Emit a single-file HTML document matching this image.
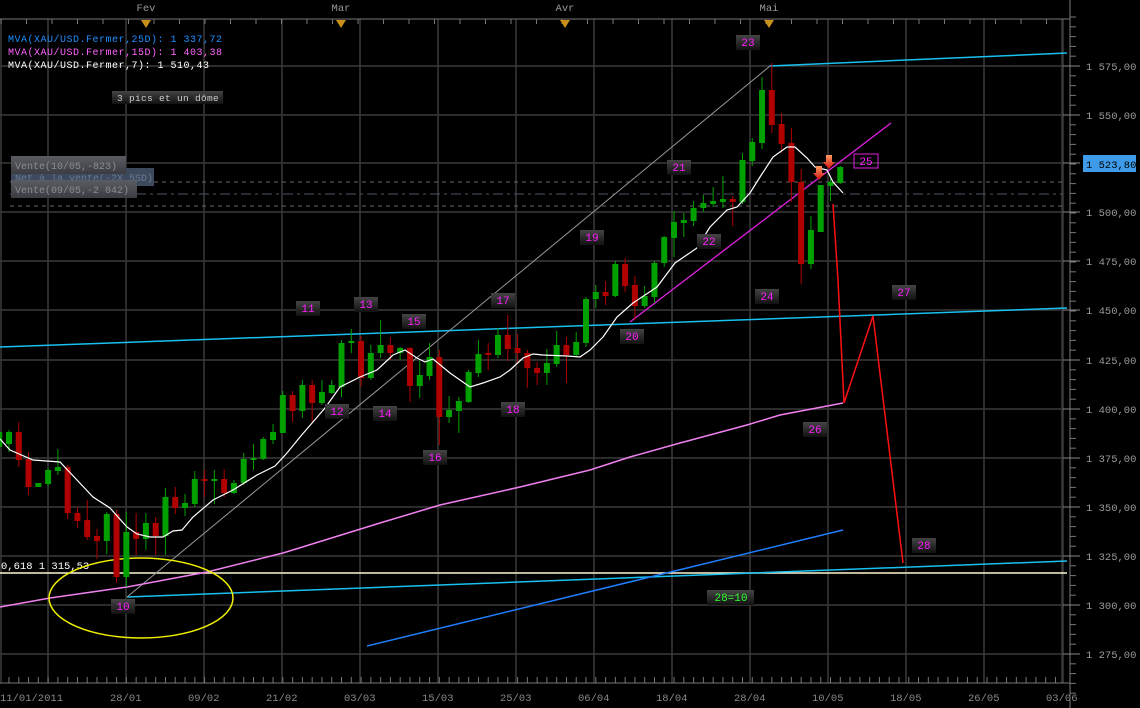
<!DOCTYPE html>
<html><head><meta charset="utf-8">
<style>
html,body{margin:0;padding:0;background:#000;}
svg{display:block;font-family:"Liberation Mono","DejaVu Sans Mono",monospace;}
</style></head>
<body>
<svg id="c" width="1140" height="708" viewBox="0 0 1140 708" xmlns="http://www.w3.org/2000/svg">
<defs>
<linearGradient id="lb" x1="0" y1="0" x2="0" y2="1"><stop offset="0" stop-color="#444"/><stop offset="1" stop-color="#111"/></linearGradient>
<linearGradient id="vb" x1="0" y1="0" x2="0" y2="1"><stop offset="0" stop-color="#5a5d63"/><stop offset="1" stop-color="#3a3c40"/></linearGradient>
<linearGradient id="ar" x1="0" y1="0" x2="0" y2="1"><stop offset="0" stop-color="#ff9a60"/><stop offset="1" stop-color="#d01010"/></linearGradient>
</defs>
<rect width="1140" height="708" fill="#000"/>
<g id="grid" stroke="#3a3a3a" stroke-width="1.5"></g>
<g id="axes"></g>
<g id="lines" fill="none"></g>
<g id="cand"></g>
<g id="over"></g>
</svg>
<script>
const NS="http://www.w3.org/2000/svg";
function el(p,t,a,txt){const e=document.createElementNS(NS,t);for(const k in a)e.setAttribute(k,a[k]);if(txt!==undefined)e.textContent=txt;document.getElementById(p).appendChild(e);return e;}
const ys=[66,115,163,212,261,310,360,409,458,507,556,605,654];
ys.forEach(y=>el("grid","line",{x1:0,y1:y,x2:1063,y2:y}));
for(let x=48;x<=1062;x+=78)el("grid","line",{x1:x,y1:19,x2:x,y2:683});
el("grid","line",{x1:1,y1:19,x2:1,y2:683});
el("grid","line",{x1:1063,y1:19,x2:1063,y2:683});
el("axes","line",{x1:0,y1:19,x2:1070,y2:19,stroke:"#777","stroke-width":1});
el("axes","line",{x1:0,y1:683,x2:1070,y2:683,stroke:"#777","stroke-width":1});
el("axes","line",{x1:1070,y1:0,x2:1070,y2:708,stroke:"#777","stroke-width":1});
for(let x=9;x<1062;x+=9.78){el("axes","line",{x1:x,y1:683,x2:x,y2:677,stroke:"#777"});}
for(let x=1;x<1062;x+=25.5){el("axes","line",{x1:x,y1:19,x2:x,y2:24,stroke:"#777"});}
for(let y=17;y<700;y+=9.8){el("axes","line",{x1:1070,y1:y,x2:1076,y2:y,stroke:"#777"});}
ys.forEach(y=>el("axes","line",{x1:1063,y1:y,x2:1080,y2:y,stroke:"#888"}));
const pl=["1 575,00","1 550,00",null,"1 500,00","1 475,00","1 450,00","1 425,00","1 400,00","1 375,00","1 350,00","1 325,00","1 300,00","1 275,00"];
pl.forEach((t,i)=>{if(t)el("axes","text",{x:1086,y:ys[i]+4,fill:"#9a9a9a","font-size":10.5},t);});
el("axes","rect",{x:1083,y:155,width:53,height:17,fill:"#3d9be9"});
el("axes","text",{x:1086,y:168,fill:"#000","font-size":10.5},"1 523,80");
const dl=[["11/01/2011",0],["28/01",110],["09/02",188],["21/02",266],["03/03",344],["15/03",422],["25/03",500],["06/04",578],["18/04",656],["28/04",734],["10/05",812],["18/05",890],["26/05",968],["03/06",1046]];
dl.forEach(d=>el("axes","text",{x:d[1],y:701,fill:"#888","font-size":10.5},d[0]));
[["Fev",146],["Mar",341],["Avr",565],["Mai",769]].forEach(m=>{
 el("axes","text",{x:m[1],y:11,fill:"#999","font-size":10.5,"text-anchor":"middle"},m[0]);
 el("axes","polygon",{points:(m[1]-5)+",20 "+(m[1]+5)+",20 "+m[1]+",28",fill:"#c8901a"});
});
el("lines","line",{x1:10,y1:182,x2:1063,y2:182,stroke:"#666","stroke-dasharray":"4,4"});
el("lines","line",{x1:10,y1:194,x2:1063,y2:194,stroke:"#4a5566","stroke-dasharray":"10,4,3,4"});
el("lines","line",{x1:10,y1:206,x2:1063,y2:206,stroke:"#666","stroke-dasharray":"4,4"});
el("lines","line",{x1:0,y1:573,x2:1067,y2:573,stroke:"#fff8d0","stroke-width":1.5});
el("lines","line",{x1:0,y1:347,x2:1067,y2:308,stroke:"#19c0f0","stroke-width":1.5});
el("lines","line",{x1:127,y1:597,x2:1067,y2:561,stroke:"#19c0f0","stroke-width":1.5});
el("lines","line",{x1:770,y1:66,x2:1067,y2:53,stroke:"#19c0f0","stroke-width":1.5});
el("lines","line",{x1:367,y1:646,x2:843,y2:530,stroke:"#1e7fff","stroke-width":1.5});
el("lines","line",{x1:127,y1:597,x2:770,y2:66,stroke:"#999","stroke-width":1});
el("lines","line",{x1:630,y1:322,x2:891,y2:123,stroke:"#e020e0","stroke-width":1.3});
el("lines","polyline",{points:"0,607 50,598 127,587 207,572 283,553 380,523 440,505 520,487 590,470 630,457 680,443 747,425 780,415 843,403",stroke:"#f080f0","stroke-width":1.5});
el("lines","ellipse",{cx:141,cy:598,rx:92,ry:40,stroke:"#f0f000","stroke-width":1.5});
el("lines","polyline",{points:"833,204 838,280 844,403 873,316 903,563",stroke:"#ff1010","stroke-width":1.5});
el("axes","text",{x:1,y:569,fill:"#fff","font-size":10.5},"0,618 1 315,53");
const C=[
["g",432,447,428,450],["g",432,444,430,452],["r",432,460,422,467],["r",459,487,452,495],["g",483,487,483,487],
["g",470,484,468,486],["g",467,471,449,475],["r",467,513,465,519],["r",513,521,507,528],["r",520,537,500,540],
["r",536,541,529,559],["g",514,541,512,554],["r",514,577,510,583],["g",532,577,512,587],["r",532,539,513,555],
["g",523,539,513,550],["r",523,536,517,555],["g",497,536,488,555],["r",497,508,487,514],["g",503,508,494,516],
["g",479,504,471,507],["r",479,481,470,497],["g",479,481,470,504],["r",479,493,469,497],["g",483,493,480,494],
["g",459,483,453,485],["g",458,460,444,470],["g",439,459,437,460],["g",432,440,424,444],["g",395,433,391,433],
["r",395,411,391,422],["g",385,411,380,418],["r",385,403,380,422],["g",392,403,380,405],["g",385,393,380,394],
["g",343,387,340,397],["g",341,343,329,353],["r",341,378,336,387],["g",353,378,345,380],["g",345,353,320,358],
["r",345,353,337,360],["g",348,353,347,360],["r",348,386,347,402],["g",375,386,361,398],["g",357,376,343,380],
["r",357,417,350,445],["g",410,417,396,423],["g",401,411,397,433],["g",372,402,370,403],["g",354,373,340,377],
["r",353,355,343,370],["g",335,355,328,358],["r",335,349,315,361],["r",348,353,334,363],["r",353,368,350,388],
["r",368,373,362,385],["g",363,373,349,385],["g",345,364,331,367],["r",345,355,337,383],["g",342,355,332,357],
["g",299,343,297,347],["g",292,299,285,308],["r",292,296,281,305],["g",264,296,261,297],["r",264,286,258,292],
["r",285,306,276,320],["g",296,306,286,308],["g",263,297,261,303],["g",237,263,236,267],["g",222,238,211,257],
["g",220,223,213,237],["g",208,221,201,226],["g",203,208,195,212],["g",201,204,187,207],["g",199,202,176,208],
["r",199,202,196,226],["g",160,202,153,204],["g",142,161,138,166],["g",90,143,77,149],["r",90,125,63,133],
["r",124,144,113,153],["r",143,182,128,202],["r",182,264,169,284],["g",230,264,216,269],["g",185,232,185,232],
["g",182,186,179,201],["g",167,183,166,184]];
C.forEach((c,i)=>{const x=-0.8+9.78*i;const col=c[0]=="g"?"#00a000":"#b00000";
 el("cand","line",{x1:x,y1:c[3],x2:x,y2:c[4],stroke:col,"stroke-width":1});
 el("cand","rect",{x:x-3,y:c[1],width:6,height:Math.max(2,c[2]-c[1]),fill:col});});
el("cand","polyline",{points:"0,439 10,450 33,460 60,462 77,480 93,497 110,508 127,527 137,534 150,537 163,537 173,531 182,530 193,517 213,500 233,490 257,475 275,466 287,453 300,437 325,408 340,387 360,377 377,370 393,355 405,350 417,358 425,362 433,359 450,373 470,387 483,383 500,377 510,370 523,358 533,354 543,355 567,356 580,357 590,350 603,337 617,317 633,303 657,287 675,263 697,248 710,227 727,210 737,207 750,193 760,177 773,157 787,147 795,147 807,158 815,167 827,170 833,182 843,193",fill:"none",stroke:"#fff","stroke-width":1.2});
[[819,166],[829,155]].forEach(a=>el("over","polygon",{points:(a[0]-3)+","+a[1]+" "+(a[0]+3)+","+a[1]+" "+(a[0]+3)+","+(a[1]+7)+" "+(a[0]+6)+","+(a[1]+7)+" "+a[0]+","+(a[1]+14)+" "+(a[0]-6)+","+(a[1]+7)+" "+(a[0]-3)+","+(a[1]+7),fill:"url(#ar)"}));
const L=[["9",-12,402],["10",123,606],["11",308,308],["12",337,411],["13",366,304],["14",385,413],["15",414,321],["16",435,457],["17",503,300],["18",513,409],["19",592,237],["20",632,336],["21",679,167],["22",709,241],["23",748,42],["24",767,296],["26",815,429],["27",904,292],["28",924,545]];
L.forEach(l=>{el("over","rect",{x:l[1]-12,y:l[2]-7,width:24,height:15,fill:"url(#lb)"});
 el("over","text",{x:l[1],y:l[2]+4,fill:"#ff20ff","font-size":11,"text-anchor":"middle"},l[0]);});
el("over","rect",{x:854,y:154,width:24,height:14,fill:"none",stroke:"#e020e0","stroke-width":1});
el("over","text",{x:866,y:165,fill:"#ff20ff","font-size":11,"text-anchor":"middle"},"25");
el("over","rect",{x:707,y:590,width:47,height:15,fill:"url(#lb)"});
el("over","text",{x:731,y:601,fill:"#30ff30","font-size":11,"text-anchor":"middle"},"28=10");
el("over","rect",{x:112,y:91,width:111,height:13,fill:"url(#lb)"});
el("over","text",{x:117,y:101,fill:"#ccc","font-size":9.5,"letter-spacing":"0.3"},"3 pics et un dôme");
el("over","rect",{x:11,y:168,width:143,height:18,fill:"#3d4a5e"});
el("over","text",{x:15,y:181,fill:"#6a7890","font-size":10},"Net à la vente(-2X 5SD)");
el("over","rect",{x:11,y:156,width:115,height:18,fill:"url(#vb)"});
el("over","text",{x:15,y:169,fill:"#8a8d92","font-size":10},"Vente(10/05,-823)");
el("over","rect",{x:11,y:180,width:126,height:18,fill:"url(#vb)"});
el("over","text",{x:15,y:193,fill:"#8a8d92","font-size":10},"Vente(09/05,-2 042)");
el("over","text",{x:8,y:42,fill:"#1e8fff","font-size":10,"letter-spacing":"0.5"},"MVA(XAU/USD.Fermer,25D): 1 337,72");
el("over","text",{x:8,y:55,fill:"#ff66ff","font-size":10,"letter-spacing":"0.5"},"MVA(XAU/USD.Fermer,15D): 1 403,38");
el("over","text",{x:8,y:68,fill:"#fff","font-size":10,"letter-spacing":"0.5"},"MVA(XAU/USD.Fermer,7): 1 510,43");
</script>
</body></html>
